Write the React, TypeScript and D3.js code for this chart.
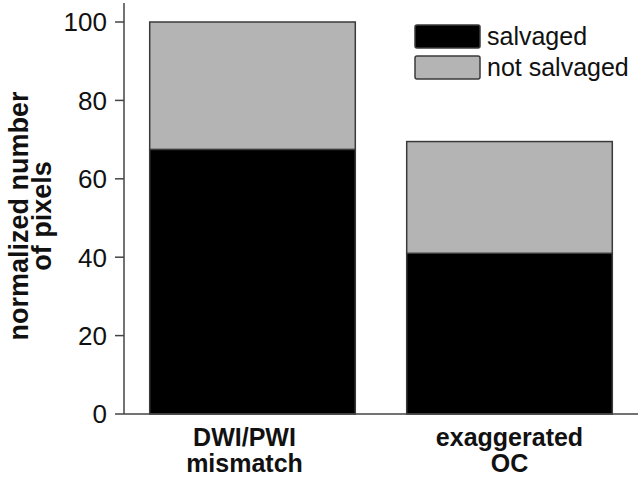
import React from "react";
import * as d3 from "d3";

const categories: string[][] = [["DWI/PWI", "mismatch"], ["exaggerated", "OC"]];
const salvaged: number[] = [67.5, 41];
const notSalvaged: number[] = [32.5, 28.5];
const seriesNames: string[] = ["salvaged", "not salvaged"];
const seriesColors: string[] = ["#000000", "#b4b4b4"];
const yTicks: number[] = [0, 20, 40, 60, 80, 100];
const yTitle: string[] = ["normalized number", "of pixels"];

const W = 641;
const H = 484;
const FONT = "'Liberation Sans', Arial, sans-serif";

export default function App() {
  const x0 = 124;
  const x1 = 638;
  const yBase = 414;
  const yTop = 22;
  const axisColor = "#444";

  const x = d3
    .scaleBand<number>()
    .domain(categories.map((_, i) => i))
    .range([x0, x1])
    .paddingInner(0.2)
    .paddingOuter(0.1);
  const y = d3.scaleLinear().domain([0, 100]).range([yBase, yTop]);

  const table = categories.map((_, i) => ({
    idx: i,
    salvaged: salvaged[i],
    "not salvaged": notSalvaged[i],
  }));
  const stack = d3.stack<any>().keys(seriesNames);
  const layers = stack(table);

  return (
    <svg
      width={W}
      height={H}
      style={{ position: "absolute", left: 0, top: 0, background: "#fff" }}
      fontFamily={FONT}
    >
      {/* bars */}
      {layers.map((layer, li) =>
        layer.map((d, i) => (
          <rect
            key={`${li}-${i}`}
            x={x(i)!}
            y={y(d[1])}
            width={x.bandwidth()}
            height={y(d[0]) - y(d[1])}
            fill={seriesColors[li]}
            stroke="#3a3a3a"
            strokeWidth={1.5}
          />
        ))
      )}

      {/* y axis */}
      <line x1={x0} x2={x0} y1={3} y2={yBase} stroke={axisColor} strokeWidth={1.5} />
      {yTicks.map((t) => (
        <g key={t}>
          <line x1={x0 - 9} x2={x0} y1={y(t)} y2={y(t)} stroke={axisColor} strokeWidth={1.5} />
          <text
            x={x0 - 17}
            y={y(t)}
            dy="0.36em"
            textAnchor="end"
            fontSize={26}
            fill="#111"
          >
            {t}
          </text>
        </g>
      ))}
      {/* x axis */}
      <line x1={x0} x2={x1} y1={yBase} y2={yBase} stroke={axisColor} strokeWidth={1.5} />

      {/* x labels */}
      {categories.map((lines, i) => (
        <text
          key={i}
          x={x(i)! + x.bandwidth() / 2}
          y={446}
          textAnchor="middle"
          fontSize={25}
          fontWeight="bold"
          fill="#111"
        >
          {lines.map((l, k) => (
            <tspan key={k} x={x(i)! + x.bandwidth() / 2 - (i === 0 ? 8 : 0)} dy={k === 0 ? 0 : 26}>
              {l}
            </tspan>
          ))}
        </text>
      ))}

      {/* y title */}
      <g transform={`translate(0,216) rotate(-90)`}>
        {yTitle.map((l, k) => (
          <text
            key={k}
            x={0}
            y={28 + k * 23}
            textAnchor="middle"
            fontSize={27}
            fontWeight="bold"
            fill="#111"
          >
            {l}
          </text>
        ))}
      </g>

      {/* legend */}
      {seriesNames.map((name, k) => (
        <g key={name} transform={`translate(415,${25 + k * 31})`}>
          <rect
            width={65}
            height={23}
            rx={2}
            fill={seriesColors[k]}
            stroke="#3a3a3a"
            strokeWidth={1.5}
          />
          <text x={72} y={20} fontSize={25} fill="#111">
            {name}
          </text>
        </g>
      ))}
    </svg>
  );
}
